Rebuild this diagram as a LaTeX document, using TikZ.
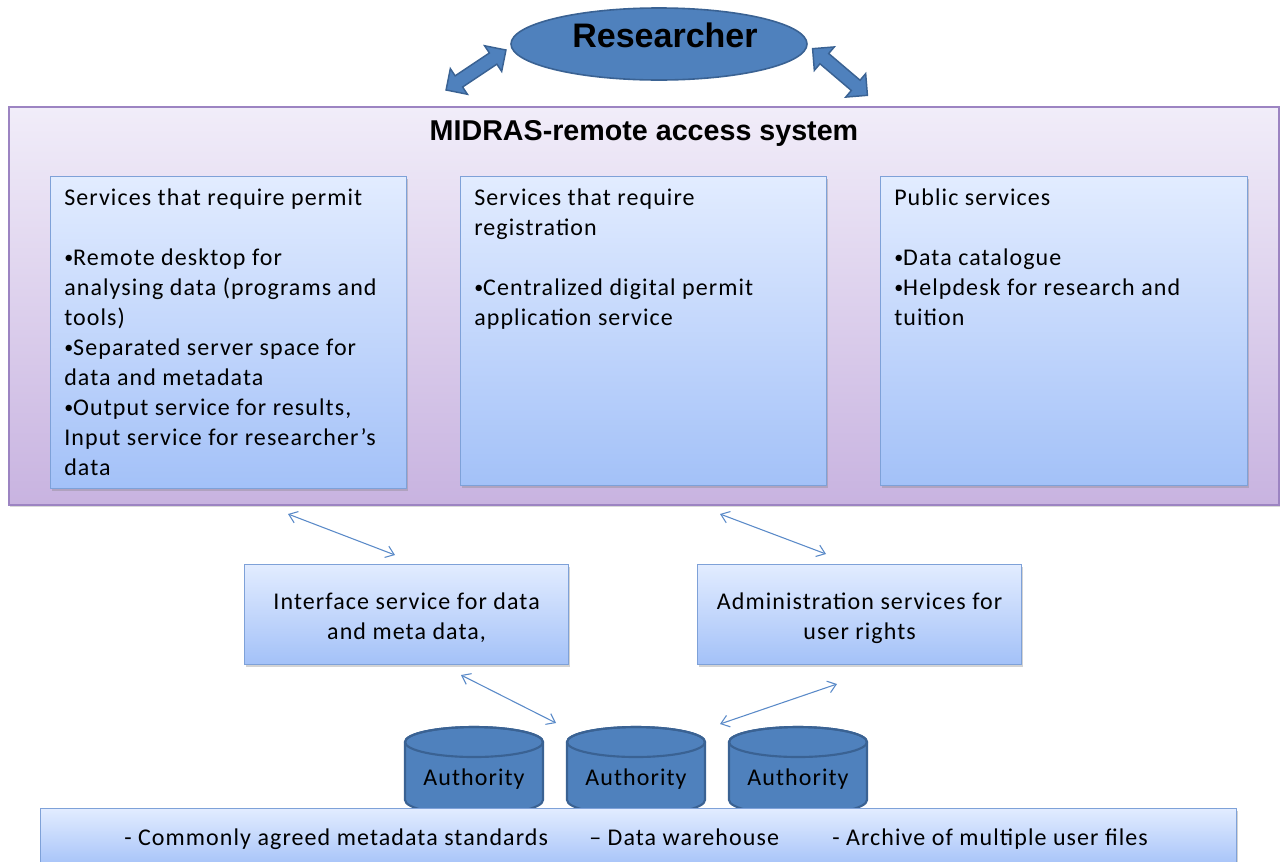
\documentclass[tikz,border=0pt]{standalone}
\usepackage{fontspec}
\setmainfont{Carlito}[LetterSpace=4.5]
\newfontfamily\headfont{Liberation Sans}
\usetikzlibrary{shapes.arrows,shapes.geometric,shadows,arrows.meta}

\definecolor{lavtop}{HTML}{F1EDF9}
\definecolor{lavbot}{HTML}{C8B3E0}
\definecolor{lavedge}{HTML}{9C84C2}
\definecolor{bluetop}{HTML}{E2ECFF}
\definecolor{bluebot}{HTML}{A3C1F8}
\definecolor{blueedge}{HTML}{7EA1D8}
\definecolor{solidblue}{HTML}{4F81BD}
\definecolor{darkblue}{HTML}{3A6293}
\definecolor{linkblue}{HTML}{5A8AC8}

% small list bullet
\newcommand\listdot{\raisebox{1.4pt}{\fontsize{13.5}{13.5}\selectfont•}}

\tikzset{
  bodytext/.style={font=\fontsize{18}{22.5}\selectfont, text=black},
  outerbox/.style={draw=lavedge, line width=1.2pt, top color=lavtop, bottom color=lavbot,
    inner sep=0pt, anchor=north west,
    drop shadow={shadow xshift=1pt, shadow yshift=-1.5pt, opacity=0.3}},
  servicebox/.style={draw=blueedge, line width=0.9pt, top color=bluetop, bottom color=bluebot,
    inner sep=0pt, anchor=north west,
    drop shadow={shadow xshift=1.2pt, shadow yshift=-1.5pt, opacity=0.35}},
  boxtext/.style={bodytext, anchor=north west, inner sep=0pt, align=left},
  blockarrow/.style={double arrow, fill=solidblue, draw=darkblue, line width=1.1pt,
    inner sep=4.5pt, double arrow head extend=6.5pt, minimum height=54pt},
  linkarrow/.style={draw=linkblue, line width=0.8pt,
    {Straight Barb[length=6pt,width=9pt]}-{Straight Barb[length=6pt,width=9pt]}},
  cylbody/.style={fill=solidblue, draw=darkblue, line width=1.6pt},
}

\begin{document}
\begin{tikzpicture}[x=0.75pt, y=0.75pt]
\useasboundingbox (0,0) rectangle (1280,-861);

% researcher and the two block arrows
\node[ellipse, fill=solidblue, draw=darkblue, line width=1.2pt,
      minimum width=222pt, minimum height=54pt, inner sep=0pt] (researcher) at (659,-44) {};
\node[font=\headfont\bfseries\fontsize{25.5}{30}\selectfont, inner sep=0pt] (researcherlbl) at (665,-35) {Researcher};
\node[blockarrow, rotate=33.7] (arrowL) at (476,-70) {};
\node[blockarrow, rotate=-40.4] (arrowR) at (840,-72) {};

% remote access system frame
\node[outerbox, minimum width=952.5pt, minimum height=298.5pt] (midras) at (8,-106) {};
\node[font=\headfont\bfseries\fontsize{21.5}{25}\selectfont, inner sep=0pt] (midraslbl) at (644,-133) {MIDRAS-remote access system};

% three service groups
\node[servicebox, minimum width=267pt, minimum height=234pt] (permit) at (50,-176) {};
\node[servicebox, minimum width=274.5pt, minimum height=231.75pt] (regist) at (460,-176) {};
\node[servicebox, minimum width=275.25pt, minimum height=231.75pt] (public) at (880,-176) {};

\node[boxtext] (permittxt) at (64,-184) {\strut Services that require permit\\[22.5pt]
  \listdot Remote desktop for\\ analysing data (programs and\\ tools)\\
  \listdot Separated server space for\\ data and metadata\\
  \listdot Output service for results,\\ Input service for researcher’s\\ data};
\node[boxtext] (registtxt) at (474,-184) {\strut Services that require\\ registration\\[22.5pt]
  \listdot Centralized digital permit\\ application service};
\node[boxtext] (publictxt) at (894,-184) {\strut Public services\\[22.5pt]
  \listdot Data catalogue\\ \listdot Helpdesk for research and\\ tuition};

% middle services
\node[servicebox, minimum width=243pt, minimum height=75pt] (iface) at (244,-564) {};
\node[bodytext, align=center, inner sep=0pt] (ifacetxt) at ([yshift=-2.5pt]iface.center) {Interface service for data\\ and meta data,};
\node[servicebox, minimum width=243pt, minimum height=75pt] (admin) at (697,-564) {};
\node[bodytext, align=center, inner sep=0pt] (admintxt) at ([yshift=-2.5pt]admin.center) {Administration services for\\ user rights};

% link arrows
\coordinate (l1a) at (288,-514); \coordinate (l1b) at (395,-555);
\coordinate (l2a) at (720,-514); \coordinate (l2b) at (826,-554);
\coordinate (l3a) at (461,-675); \coordinate (l3b) at (556,-723);
\coordinate (l4a) at (837,-684); \coordinate (l4b) at (720,-724);
\draw[linkarrow] (l1a) -- (l1b);
\draw[linkarrow] (l2a) -- (l2b);
\draw[linkarrow] (l3a) -- (l3b);
\draw[linkarrow] (l4a) -- (l4b);

% authority databases
\foreach \cx/\nm in {474/authA, 636/authB, 798/authC}{
  \path[cylbody] (\cx-69,-742) -- (\cx-69,-800)
     arc[start angle=180, end angle=360, x radius=69, y radius=15]
     -- (\cx+69,-742)
     arc[start angle=0, end angle=180, x radius=69, y radius=15] -- cycle;
  \draw[darkblue, line width=1.6pt] (\cx,-742) ellipse[x radius=69, y radius=15];
  \node[bodytext, inner sep=0pt] (\nm) at (\cx,-779) {Authority};
}

% shared base layer
\node[servicebox, minimum width=897pt, minimum height=45pt] (base) at (40,-808) {};
\node[bodytext, anchor=base west, inner sep=0pt] (baseA) at (124,-845) {- Commonly agreed metadata standards};
\node[bodytext, anchor=base west, inner sep=0pt] (baseB) at (589,-845) {– Data warehouse};
\node[bodytext, anchor=base west, inner sep=0pt] (baseC) at (832,-845) {- Archive of multiple user files};
\end{tikzpicture}
\end{document}
